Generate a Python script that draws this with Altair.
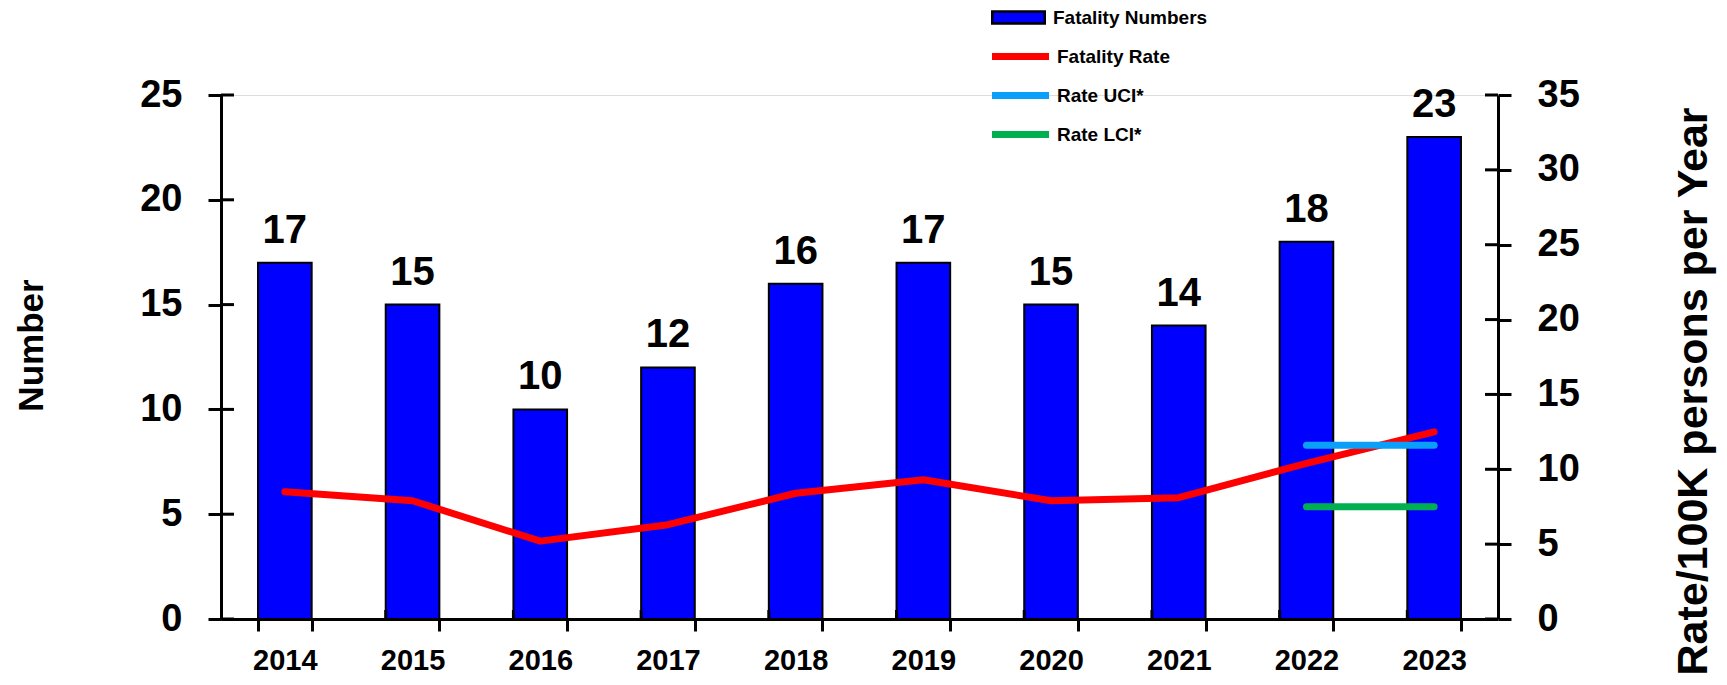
import altair as alt
import pandas as pd

# ---- data ----
years = ["2014", "2015", "2016", "2017", "2018", "2019", "2020", "2021", "2022", "2023"]
counts = [17, 15, 10, 12, 16, 17, 15, 14, 18, 23]
rates = [8.5, 7.9, 5.2, 6.3, 8.4, 9.3, 7.9, 8.1, 10.4, 12.5]
ci_years = ["2022", "2023"]
uci = [11.6, 11.6]
lci = [7.5, 7.5]
left_ticks = [0, 5, 10, 15, 20, 25]
right_ticks = [0, 5, 10, 15, 20, 25, 30, 35]
bar_series = ["Fatality Numbers"]
line_series = ["Fatality Rate", "Rate UCI*", "Rate LCI*"]
bar_colors = ["#0000FF"]
line_colors = ["#FF0000", "#0AA0FA", "#00B050"]

W, H = 1277, 524
FONT = "Liberation Sans"

bars_df = pd.DataFrame({"year": years, "count": counts, "series": bar_series[0]})
lines_df = pd.concat([
    pd.DataFrame({"year": years, "value": rates, "series": line_series[0]}),
    pd.DataFrame({"year": ci_years, "value": uci, "series": line_series[1]}),
    pd.DataFrame({"year": ci_years, "value": lci, "series": line_series[2]}),
], ignore_index=True)

x_axis = alt.Axis(
    title=None, labelAngle=0, labelFont=FONT, labelFontSize=29, labelFontWeight="bold",
    labelColor="black", labelPadding=15, tickBand="extent", tickSize=12, tickWidth=3,
    tickColor="black", domainColor="black", domainWidth=3, grid=False,
)
x_scale = alt.Scale(domain=years, paddingInner=0.58, paddingOuter=0.29)

yL_scale = alt.Scale(domain=[0, 25], nice=False, zero=True)
yR_scale = alt.Scale(domain=[0, 35], nice=False, zero=True)

axL = alt.Axis(
    values=left_ticks, title="Number", titleFont=FONT, titleFontSize=35,
    titleFontWeight="bold", titleColor="black", titleAngle=270, titleX=-190, titleY=250,
    titleAlign="center", titleBaseline="middle",
    labelFont=FONT, labelFontSize=38, labelFontWeight="bold", labelColor="black",
    labelPadding=26, tickSize=13, tickWidth=3, tickColor="black",
    domainColor="black", domainWidth=3, grid=False,
)
axR = alt.Axis(
    orient="right", values=right_ticks, title="Rate/100K persons per Year",
    titleFont=FONT, titleFontSize=43, titleFontWeight="bold", titleColor="black",
    titleAngle=270, titleX=195, titleY=296, titleAlign="center", titleBaseline="middle",
    labelFont=FONT, labelFontSize=38, labelFontWeight="bold", labelColor="black",
    labelPadding=26, tickSize=13, tickWidth=3, tickColor="black",
    domainColor="black", domainWidth=3, grid=False,
)

bars = alt.Chart(bars_df).mark_bar(stroke="black", strokeWidth=2).encode(
    x=alt.X("year:N", scale=x_scale, axis=x_axis),
    y=alt.Y("count:Q", scale=yL_scale, axis=axL),
    color=alt.Color(
        "series:N", scale=alt.Scale(domain=bar_series, range=bar_colors),
        legend=alt.Legend(
            title=None, orient="none", legendX=781, legendY=-94, padding=0,
            symbolType="M-1.75,-0.4H1.75V0.4H-1.75Z", symbolSize=900,
            symbolStrokeColor="black", symbolStrokeWidth=2.5,
            labelFont=FONT, labelFontSize=19, labelFontWeight="bold", labelColor="black",
            labelOffset=18,
        ),
    ),
)

labels = alt.Chart(bars_df).mark_text(
    font=FONT, fontSize=40, fontWeight="bold", color="black", baseline="alphabetic", dy=-20
).encode(
    x=alt.X("year:N", scale=x_scale, axis=x_axis),
    y=alt.Y("count:Q", scale=yL_scale, axis=axL),
    text=alt.Text("count:Q"),
)

ltick = alt.Chart(pd.DataFrame({"v": left_ticks})).mark_rule(color="black", strokeWidth=3).encode(
    y=alt.Y("v:Q", scale=yL_scale, axis=axL),
    x=alt.value(0), x2=alt.value(13),
)

xtick = alt.Chart(pd.DataFrame({"year": years[1:]})).mark_rule(color="black", strokeWidth=3).encode(
    x=alt.X("year:N", scale=x_scale, axis=x_axis, bandPosition=0),
    y=alt.value(H - 9), y2=alt.value(H),
)

line = alt.Chart(lines_df).mark_line(strokeWidth=7, strokeCap="round", strokeJoin="round").encode(
    x=alt.X("year:N", scale=x_scale, axis=x_axis),
    y=alt.Y("value:Q", scale=yR_scale, axis=axR),
    color=alt.Color(
        "series:N", scale=alt.Scale(domain=line_series, range=line_colors),
        legend=alt.Legend(
            title=None, orient="none", legendX=781, legendY=-57, padding=0,
            symbolType="M-1.9,0H1.9", symbolSize=900, symbolStrokeWidth=7,
            rowPadding=6,
            labelFont=FONT, labelFontSize=19, labelFontWeight="bold", labelColor="black",
            labelOffset=18,
        ),
    ),
)

rtick = alt.Chart(pd.DataFrame({"v": right_ticks})).mark_rule(color="black", strokeWidth=3).encode(
    y=alt.Y("v:Q", scale=yR_scale, axis=axR),
    x=alt.value(W - 13), x2=alt.value(W),
)

left = alt.layer(bars, labels, ltick, xtick)
right = alt.layer(line, rtick)

chart = (
    alt.layer(left, right)
    .resolve_scale(y="independent", color="independent")
    .properties(
        width=W, height=H, autosize="none",
        padding={"left": 213, "top": 87, "right": 220, "bottom": 56},
    )
    .configure_view(strokeWidth=0, stroke="transparent")
    .configure(font=FONT)
)

chart.save("out.html", embed_options={"renderer": "svg", "actions": False})
